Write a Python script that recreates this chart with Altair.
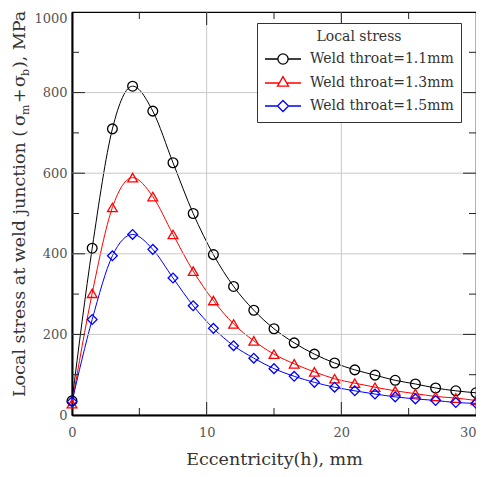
import altair as alt
import pandas as pd

# ---- data ----
ecc = [0, 1.5, 3, 4.5, 6, 7.5, 9, 10.5, 12, 13.5, 15, 16.5, 18, 19.5, 21, 22.5, 24, 25.5, 27, 28.5, 30]
stress_11 = [35, 414, 710, 816, 754, 626, 500, 398, 319, 260, 214, 179, 151, 129, 112, 99, 86, 77, 67, 60, 55]
stress_13 = [28, 302, 515, 589, 542, 448, 357, 284, 226, 184, 151, 127, 107, 90, 79, 69, 60, 53, 46, 42, 36]
stress_15 = [33, 237, 395, 448, 411, 340, 271, 215, 172, 141, 115, 96, 81, 69, 60, 52, 45, 40, 36, 31, 29]
series_labels = ["Weld throat=1.1mm", "Weld throat=1.3mm", "Weld throat=1.5mm"]
series_colors = ["#000000", "#ff0000", "#0000ff"]
series_shapes = ["circle", "triangle-up", "diamond"]
legend_title = "Local stress"
x_title = "Eccentricity(h), mm"
y_title_parts = ["Local stress at weld junction (", "σ", "m", "+", "σ", "b", "), MPa"]
x_labels = [0, 10, 20, 30]
y_labels = [0, 200, 400, 600, 800, 1000]
x_grid = [10, 20]
y_grid = [200, 400, 600, 800]
x_minor = [5, 15, 25]
y_minor = [100, 300, 500, 700, 900]

rows = []
for lab, vals in zip(series_labels, [stress_11, stress_13, stress_15]):
    for xv, yv in zip(ecc, vals):
        rows.append({"ecc": xv, "stress": yv, "series": lab})
df = pd.DataFrame(rows)

W, H = 404, 403
FONT = "DejaVu Serif"
xs = alt.Scale(domain=[0, 30], nice=False, zero=False)
ys = alt.Scale(domain=[0, 1000], nice=False)

x_axis = alt.Axis(values=x_labels, format="d", title=x_title, grid=False, ticks=False, tickSize=0,
                  labelFlush=False,
                  labelAlign=alt.condition("datum.value >= 30", alt.value("right"), alt.value("center")),
                  labelPadding=11, labelFontSize=13, labelFont=FONT, labelColor="#555",
                  titleFont=FONT, titleFontSize=17.5, titleFontWeight="normal", titleColor="#333",
                  titlePadding=11, domainColor="black", domainWidth=2)
y_axis = alt.Axis(values=y_labels, format="d", title=None, grid=False, ticks=False, tickSize=0,
                  labelFlush=False,
                  labelBaseline=alt.condition("datum.value >= 1000", alt.value("top"), alt.value("middle")),
                  labelPadding=5, labelFontSize=13, labelFont=FONT, labelColor="#555",
                  domainColor="black", domainWidth=2)


def X(field):
    return alt.X(field, type="quantitative", scale=xs, axis=x_axis)


def Y(field):
    return alt.Y(field, type="quantitative", scale=ys, axis=y_axis)


# grid lines
grid_x = alt.Chart(pd.DataFrame({"ecc": x_grid})).mark_rule(color="#c8c8c8", strokeWidth=1).encode(x=X("ecc"))
grid_y = alt.Chart(pd.DataFrame({"stress": y_grid})).mark_rule(color="#c8c8c8", strokeWidth=1).encode(y=Y("stress"))


# inward ticks on all four sides
def x_ticks(vals, length):
    base = alt.Chart(pd.DataFrame({"ecc": vals})).mark_rule(color="#222", strokeWidth=1)
    return [base.encode(x=X("ecc"), y=alt.value(H), y2=alt.value(H - length)),
            base.encode(x=X("ecc"), y=alt.value(0), y2=alt.value(length))]


def y_ticks(vals, length):
    base = alt.Chart(pd.DataFrame({"stress": vals})).mark_rule(color="#222", strokeWidth=1)
    return [base.encode(y=Y("stress"), x=alt.value(0), x2=alt.value(length)),
            base.encode(y=Y("stress"), x=alt.value(W - length), x2=alt.value(W))]


tick_layers = x_ticks(x_grid, 13) + x_ticks(x_minor, 7) + y_ticks(y_grid, 13) + y_ticks(y_minor, 7)

lines = alt.Chart(df).mark_line(interpolate="monotone", strokeWidth=1).encode(
    x=X("ecc"), y=Y("stress"),
    color=alt.Color("series:N", scale=alt.Scale(domain=series_labels, range=series_colors), legend=None),
)

points = alt.Chart(df).mark_point(filled=False, strokeWidth=1.3, opacity=1, size=95).encode(
    x=X("ecc"), y=Y("stress"),
    stroke=alt.Stroke("series:N", scale=alt.Scale(domain=series_labels, range=series_colors), legend=None),
    shape=alt.Shape("series:N", scale=alt.Scale(domain=series_labels, range=series_shapes), legend=None),
)

# legend symbols: line segment with marker (unit = sqrt(144)/2 = 6 px)
legend_paths = [
    "M-3,0H-0.85M0.85,0H3M-0.85,0A0.85,0.85,0,1,1,0.85,0A0.85,0.85,0,1,1,-0.85,0Z",
    "M-3,0H-0.61M0.61,0H3M0,-1.06L0.92,0.53L-0.92,0.53Z",
    "M-3,0H-0.92M0.92,0H3M0,-0.92L0.92,0L0,0.92L-0.92,0Z",
]
leg = alt.Legend(title=legend_title, orient="none", legendX=185, legendY=11, direction="vertical",
                 titleFont=FONT, titleFontSize=14, titleFontWeight="normal", titleColor="#333",
                 titleAnchor="middle", titleAlign="center", titlePadding=8,
                 labelFont=FONT, labelFontSize=14, labelColor="#333", labelOffset=20,
                 symbolOffset=12, symbolSize=144, symbolStrokeWidth=1.3,
                 padding=7, rowPadding=7, strokeColor="#333", fillColor="white")
legend_layer = alt.Chart(df).transform_filter("false").mark_point(filled=False, strokeWidth=1.3, opacity=1).encode(
    x=X("ecc"), y=Y("stress"),
    stroke=alt.Stroke("series:N", scale=alt.Scale(domain=series_labels, range=series_colors), legend=leg),
    shape=alt.Shape("series:N", scale=alt.Scale(domain=series_labels, range=legend_paths), legend=leg),
)

# rotated y title built from pieces (for subscripts)
piece_pos = [(385, -47, 17.5), (114, -47, 17.5), (103, -43, 11), (91, -47, 17.5),
             (75, -47, 17.5), (64, -43, 11), (56, -47, 17.5)]
title_layers = []
for txt, (py, px, fs) in zip(y_title_parts, piece_pos):
    title_layers.append(
        alt.Chart(pd.DataFrame({"t": [txt]})).mark_text(
            angle=270, align="left", baseline="alphabetic", font=FONT, fontSize=fs, color="#333"
        ).encode(text="t:N", x=alt.value(px), y=alt.value(py))
    )

chart = alt.layer(lines, grid_x, grid_y, points, *tick_layers, *title_layers, legend_layer).resolve_scale(
    shape="independent", stroke="independent"
).properties(
    width=W, height=H,
    padding={"left": 64, "top": 4, "right": 0, "bottom": 54},
    autosize=alt.AutoSizeParams(type="none"),
).configure_view(stroke="black", strokeWidth=1.2)

chart.save("out.html", embed_options={"renderer": "svg", "actions": False})
